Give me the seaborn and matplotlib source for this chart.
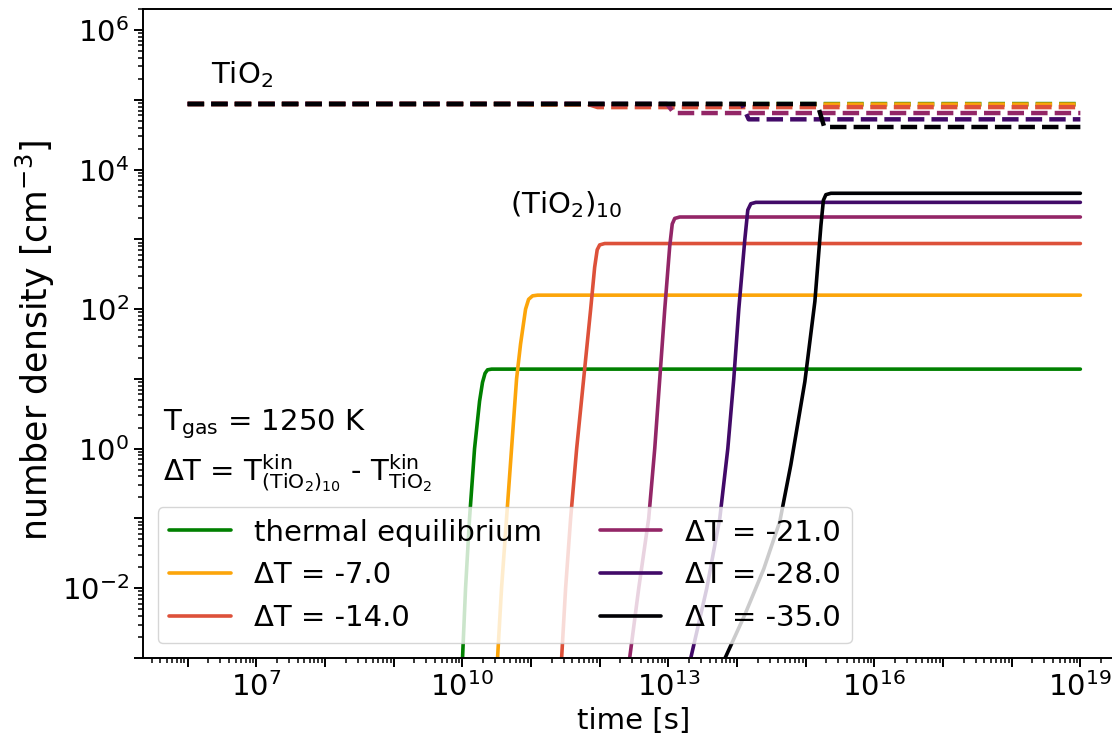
import matplotlib
matplotlib.use("Agg")
import matplotlib.pyplot as plt
from matplotlib.ticker import LogLocator, FuncFormatter, NullFormatter
import numpy as np
import seaborn as sns

# ================================
# DATA (log10 units)
# ================================
labels = ["thermal equilibrium", "ΔT = -7.0", "ΔT = -14.0",
          "ΔT = -21.0", "ΔT = -28.0", "ΔT = -35.0"]
colors = ["green", "#fca50a", "#dd513a", "#932667", "#420a68", "#000004"]

# (TiO2)_10 number density, solid lines
cluster_logt = [
    [9.974, 10.003, 10.047, 10.105, 10.178, 10.251, 10.294, 10.331, 10.367, 10.426, 19.0],
    [10.484, 10.513, 10.571, 10.644, 10.717, 10.790, 10.848, 10.921, 10.965, 11.023, 11.096, 19.0],
    [11.417, 11.446, 11.504, 11.577, 11.665, 11.767, 11.869, 11.927, 11.964, 12.000, 12.073, 19.0],
    [12.394, 12.437, 12.569, 12.714, 12.802, 12.875, 12.948, 13.020, 13.057, 13.093, 13.166, 19.0],
    [13.239, 13.327, 13.560, 13.749, 13.866, 13.953, 14.026, 14.114, 14.157, 14.201, 14.274, 19.0],
    [13.691, 13.822, 14.114, 14.391, 14.624, 14.784, 14.988, 15.134, 15.222, 15.258, 15.294, 15.367, 19.0],
]
cluster_logn = [
    [-3.5, -3.0, -2.0, -1.0, 0.0, 0.68, 0.95, 1.08, 1.13, 1.14, 1.14],
    [-3.5, -3.0, -2.0, -1.0, 0.0, 1.0, 1.5, 2.0, 2.14, 2.19, 2.20, 2.20],
    [-3.5, -3.0, -2.0, -1.0, 0.0, 1.0, 2.0, 2.6, 2.85, 2.92, 2.94, 2.94],
    [-3.5, -3.0, -2.0, -1.0, 0.0, 1.0, 2.0, 2.9, 3.22, 3.30, 3.32, 3.32],
    [-3.5, -3.0, -2.0, -1.0, 0.0, 1.0, 2.0, 3.0, 3.42, 3.51, 3.53, 3.53],
    [-3.3, -3.01, -2.38, -1.72, -1.04, -0.23, 0.96, 2.11, 3.2, 3.56, 3.64, 3.66, 3.66],
]

# TiO2 monomer number density, dashed lines
tio2_logt = [
    [6.0, 10.25, 10.36, 19.0],
    [6.0, 10.90, 11.02, 19.0],
    [6.0, 11.83, 11.97, 19.0],
    [6.0, 12.98, 13.08, 19.0],
    [6.0, 14.07, 14.17, 19.0],
    [6.0, 15.17, 15.27, 19.0],
]
tio2_logn = [
    [4.94, 4.94, 4.939, 4.939],
    [4.94, 4.94, 4.932, 4.932],
    [4.94, 4.94, 4.895, 4.895],
    [4.94, 4.94, 4.81, 4.81],
    [4.94, 4.94, 4.72, 4.72],
    [4.94, 4.94, 4.61, 4.61],
]

# ================================
# STYLE
# ================================
sns.set_style("ticks")
plt.rcParams.update({
    "font.family": ["DejaVu Sans"],
    "mathtext.fontset": "dejavusans",
    "axes.linewidth": 1.4,
    "xtick.major.size": 6.5, "xtick.major.width": 1.4,
    "ytick.major.size": 6.5, "ytick.major.width": 1.4,
    "xtick.minor.size": 3.6, "xtick.minor.width": 1.1,
    "ytick.minor.size": 3.6, "ytick.minor.width": 1.1,
    "xtick.color": "black", "ytick.color": "black",
    "axes.edgecolor": "black", "axes.labelcolor": "black",
    "text.color": "black",
})

fs = 21

fig = plt.figure(figsize=(11.12, 7.44), dpi=100)
ax = fig.add_axes([143 / 1112, 86 / 744, (1125 - 143) / 1112, 649 / 744])
ax.set_xscale("log")
ax.set_yscale("log")

for t, n, c in zip(tio2_logt, tio2_logn, colors):
    sns.lineplot(x=10 ** np.array(t), y=10 ** np.array(n), color=c, lw=3.2,
                 linestyle="--", sort=False, estimator=None, ax=ax)

for t, n, c, lab in zip(cluster_logt, cluster_logn, colors, labels):
    sns.lineplot(x=10 ** np.array(t), y=10 ** np.array(n), color=c, lw=2.6,
                 sort=False, estimator=None, ax=ax, label=lab)

ax.set_xlim(10 ** 5.35, 10 ** 19.65)
ax.set_ylim(1e-3, 2e6)

# ticks: major every decade, labels every 3rd (x) / 2nd (y)
ax.xaxis.set_major_locator(LogLocator(base=10, numticks=40))
ax.xaxis.set_minor_locator(LogLocator(base=10, subs=np.arange(2, 10), numticks=400))
ax.yaxis.set_major_locator(LogLocator(base=10, numticks=40))
ax.yaxis.set_minor_locator(LogLocator(base=10, subs=np.arange(2, 10), numticks=400))


def fmt_x(v, pos):
    e = int(round(np.log10(v)))
    return r"$10^{%d}$" % e if (e - 7) % 3 == 0 else ""


def fmt_y(v, pos):
    e = int(round(np.log10(v)))
    return r"$10^{%d}$" % e if e % 2 == 0 else ""


ax.xaxis.set_major_formatter(FuncFormatter(fmt_x))
ax.yaxis.set_major_formatter(FuncFormatter(fmt_y))
ax.xaxis.set_minor_formatter(NullFormatter())
ax.yaxis.set_minor_formatter(NullFormatter())
ax.tick_params(axis="both", which="major", labelsize=fs)

ax.set_xlabel("time [s]", fontsize=fs)
ax.set_ylabel(r"number density [cm$^{-3}$]", fontsize=25)
ax.yaxis.set_label_coords(-0.088, 0.49)

ax.text(10 ** 6.34, 10 ** 5.24, r"TiO$_2$", fontsize=fs, va="baseline")
ax.text(10 ** 10.69, 10 ** 3.37, r"(TiO$_2$)$_{10}$", fontsize=fs, va="baseline")
ax.text(0.0204, 0.351, r"T$_{\mathrm{gas}}$ = 1250 K", fontsize=fs,
        va="baseline", transform=ax.transAxes)
ax.text(0.0204, 0.274,
        r"ΔT = T$^{\mathrm{kin}}_{(\mathrm{TiO}_2)_{10}}$ - T$^{\mathrm{kin}}_{\mathrm{TiO}_2}$",
        fontsize=fs, va="baseline", transform=ax.transAxes)

ax.legend(loc="lower left", ncol=2, fontsize=fs, handlelength=2.1)

fig.savefig("out.png", dpi=100)
plt.close(fig)
